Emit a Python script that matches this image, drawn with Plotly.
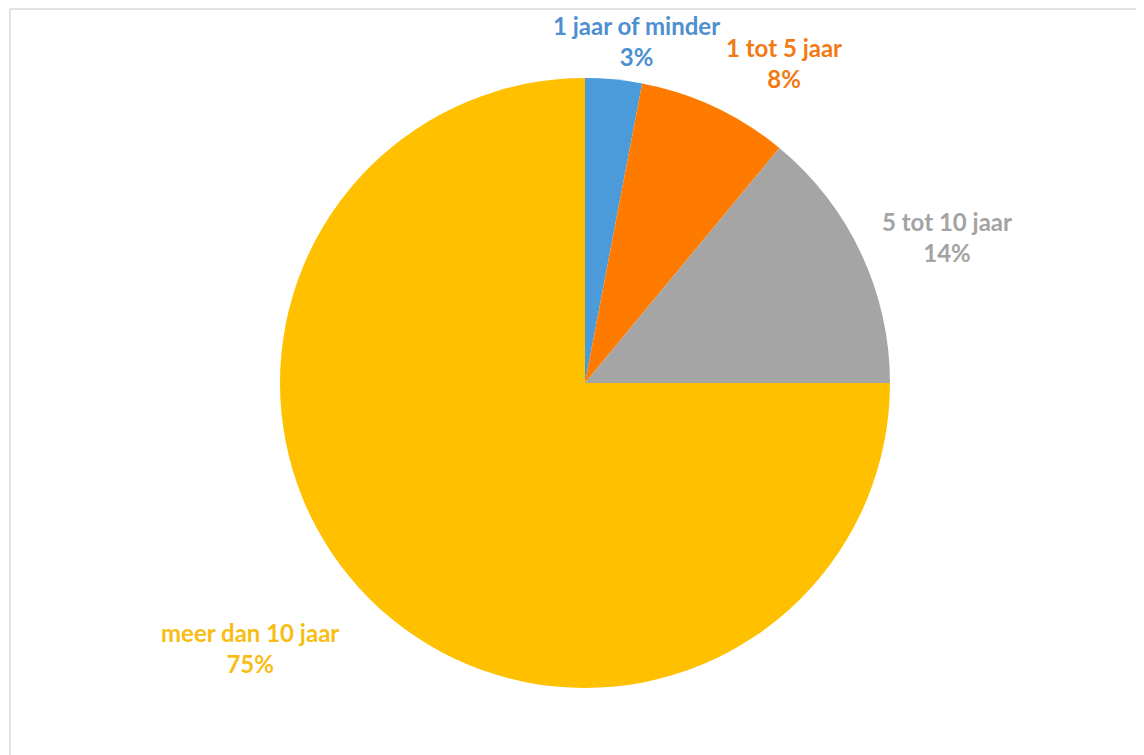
import plotly.graph_objects as go

W, H = 1144, 755
OFF = 8  # page body margin

# data
categorieen = ["1 jaar of minder", "1 tot 5 jaar", "5 tot 10 jaar", "meer dan 10 jaar"]
percentages = [3, 8, 14, 75]
kleuren = ["#4B9BDB", "#FF7B00", "#A5A5A5", "#FFC000"]
tekstkleuren = ["#4E8FD0", "#F27A12", "#A3A3A3", "#F8BD14"]
# label positions in pixels (centre of the two-line block)
label_pos = [(636, 41), (784, 63), (947, 237), (250, 648)]


def px(x, y):
    return (x - OFF) / W, 1 - (y - OFF) / H


fig = go.Figure()
fig.add_trace(go.Pie(
    labels=categorieen,
    values=percentages,
    marker=dict(colors=kleuren, line=dict(width=0)),
    sort=False,
    direction="clockwise",
    rotation=0,
    textinfo="none",
    hoverinfo="label+percent",
    showlegend=False,
    domain=dict(x=[(280 - OFF) / W, (890 - OFF) / W],
                y=[1 - (688 - OFF) / H, 1 - (78 - OFF) / H]),
))

annotaties = []
for cat, pct, kl, (lx, ly) in zip(categorieen, percentages, tekstkleuren, label_pos):
    ax, ay = px(lx, ly)
    annotaties.append(dict(
        x=ax, y=ay, xref="paper", yref="paper",
        text=f"<b>{cat}</b><br><b>{pct}%</b>",
        showarrow=False, align="center",
        xanchor="center", yanchor="middle",
        font=dict(family="Lato", size=24, color=kl),
    ))

# frame: only top and left edges visible
lx0, ty = px(10, 9)
rx, by = px(1160, 770)
fig.update_layout(
    width=W, height=H,
    margin=dict(l=0, r=0, t=0, b=0),
    paper_bgcolor="white",
    plot_bgcolor="white",
    annotations=annotaties,
    shapes=[
        dict(type="line", xref="paper", yref="paper",
             x0=lx0, y0=ty, x1=rx, y1=ty,
             line=dict(color="#D9D9D9", width=1.5)),
        dict(type="line", xref="paper", yref="paper",
             x0=lx0, y0=ty, x1=lx0, y1=by,
             line=dict(color="#D9D9D9", width=1.5)),
    ],
)

fig.write_html("out.html")
